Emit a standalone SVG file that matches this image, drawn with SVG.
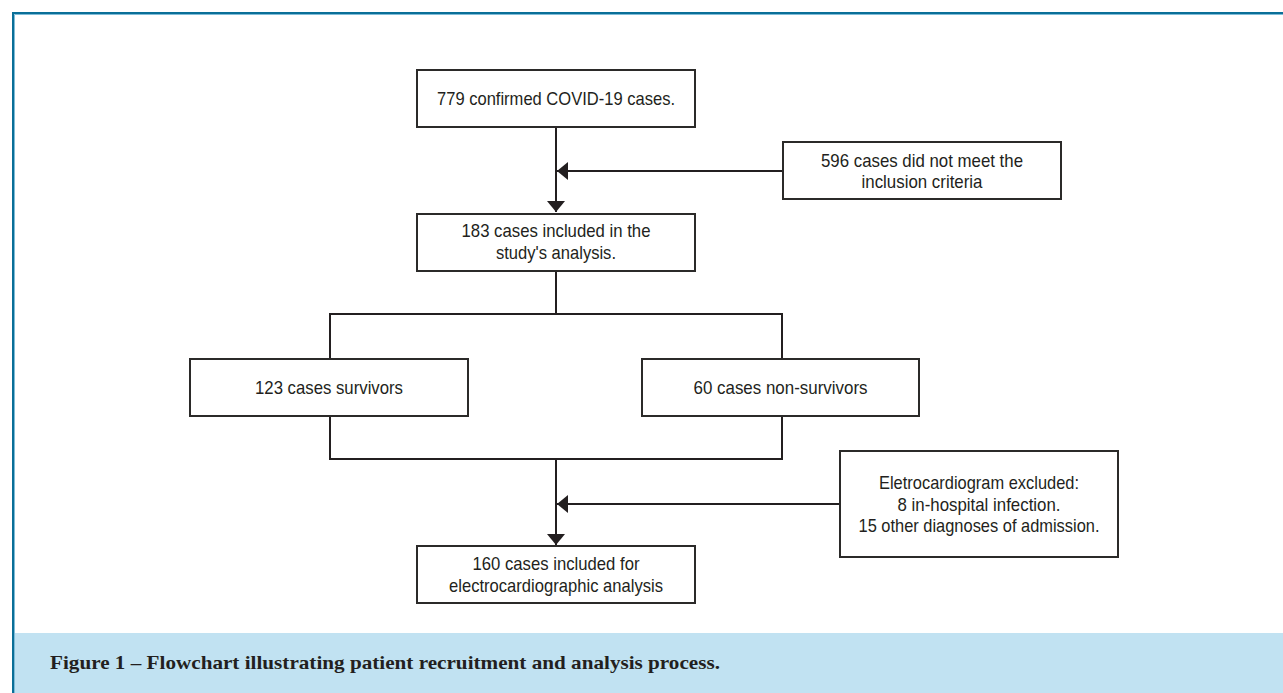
<svg xmlns="http://www.w3.org/2000/svg" width="1283" height="693" viewBox="0 0 1283 693">
<style>
.box{fill:#fff;stroke:#2b2a29;stroke-width:2}
.t{font-family:"Liberation Sans",Arial,sans-serif;font-size:19px;fill:#231f20;text-anchor:middle}
.cap{font-family:"Liberation Serif","Times New Roman",serif;font-size:19px;font-weight:bold;fill:#231f20}
.ln{fill:none;stroke:#231f20;stroke-width:2}
</style>
<defs>
<marker id="ah" viewBox="0 0 11 18" refX="11" refY="9" markerWidth="11" markerHeight="18" markerUnits="userSpaceOnUse" orient="auto">
<path d="M0,0 L11,9 L0,18 z" fill="#231f20"/>
</marker>
</defs>
<rect x="0" y="0" width="1283" height="693" fill="#fff"/>
<rect x="14" y="633" width="1269" height="60" fill="#c1e2f2"/>
<path d="M13,693 V13 H1283" fill="none" stroke="#0a6f98" stroke-width="2"/>
<path d="M14.5,693 V14.5 H1283" fill="none" stroke="#7fbcd8" stroke-width="1"/>
<text class="cap" x="50" y="669" textLength="670" lengthAdjust="spacingAndGlyphs">Figure 1 – Flowchart illustrating patient recruitment and analysis process.</text>

<g id="connectors">
<path class="ln" d="M556,127 V212" marker-end="url(#ah)"/>
<path class="ln" d="M783,171 H557" marker-end="url(#ah)"/>
<path class="ln" d="M556,271 V314 M330,314 H782 M330,313 V359 M782,313 V359"/>
<path class="ln" d="M330,416 V459 H782 V416 M556,459 V545" marker-end="url(#ah)"/>
<path class="ln" d="M840,504 H557" marker-end="url(#ah)"/>
</g>

<g id="n1">
<rect class="box" x="417" y="70" width="278" height="57"/>
<text class="t" x="556" y="105" textLength="238" lengthAdjust="spacingAndGlyphs">779 confirmed COVID-19 cases.</text>
</g>
<g id="n2">
<rect class="box" x="783" y="142" width="278" height="57"/>
<text class="t" x="922" y="167" textLength="202" lengthAdjust="spacingAndGlyphs">596 cases did not meet the</text>
<text class="t" x="922" y="188" textLength="121" lengthAdjust="spacingAndGlyphs">inclusion criteria</text>
</g>
<g id="n3">
<rect class="box" x="417" y="214" width="278" height="57"/>
<text class="t" x="556" y="237" textLength="189" lengthAdjust="spacingAndGlyphs">183 cases included in the</text>
<text class="t" x="556" y="259" textLength="120" lengthAdjust="spacingAndGlyphs">study's analysis.</text>
</g>
<g id="n4">
<rect class="box" x="190" y="359" width="278" height="57"/>
<text class="t" x="329" y="394" textLength="148" lengthAdjust="spacingAndGlyphs">123 cases survivors</text>
</g>
<g id="n5">
<rect class="box" x="642" y="359" width="277" height="57"/>
<text class="t" x="780.5" y="394" textLength="174" lengthAdjust="spacingAndGlyphs">60 cases non-survivors</text>
</g>
<g id="n6">
<rect class="box" x="840" y="451" width="278" height="106"/>
<text class="t" x="979" y="489" textLength="200" lengthAdjust="spacingAndGlyphs">Eletrocardiogram excluded:</text>
<text class="t" x="979" y="511" textLength="163" lengthAdjust="spacingAndGlyphs">8 in-hospital infection.</text>
<text class="t" x="979" y="532" textLength="241" lengthAdjust="spacingAndGlyphs">15 other diagnoses of admission.</text>
</g>
<g id="n7">
<rect class="box" x="417" y="546" width="278" height="57"/>
<text class="t" x="556" y="570" textLength="167" lengthAdjust="spacingAndGlyphs">160 cases included for</text>
<text class="t" x="556" y="592" textLength="214" lengthAdjust="spacingAndGlyphs">electrocardiographic analysis</text>
</g>
</svg>
